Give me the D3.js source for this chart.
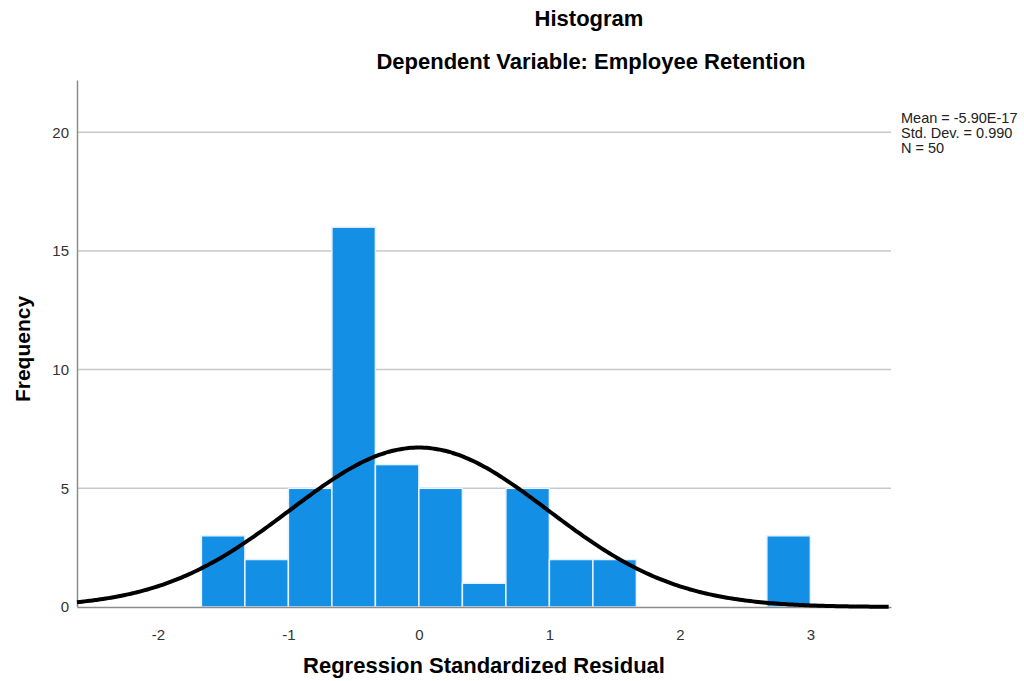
<!DOCTYPE html>
<html>
<head>
<meta charset="utf-8">
<script src="https://cdn.jsdelivr.net/npm/d3@7"></script>
<style>
  body { margin: 0; background: #fff; }
  text { font-family: "Liberation Sans", Arial, sans-serif; }
</style>
</head>
<body>
<div id="chart"></div>
<script>
// Histogram data (bins of width 1/3)
const binStarts = [-5/3, -4/3, -1, -2/3, -1/3, 0, 1/3, 2/3, 1, 4/3, 8/3];
const counts    = [3, 2, 5, 16, 6, 5, 1, 5, 2, 2, 3];
const binWidth = 1 / 3;
const yTicks = [0, 5, 10, 15, 20];
const xTicks = [-2, -1, 0, 1, 2, 3];
const statLines = ["Mean = -5.90E-17", "Std. Dev. = 0.990", "N = 50"];
const mean = -5.90e-17, sd = 0.990, n = 50;

const W = 1024, H = 681;
const margin = { top: 80, right: 133, bottom: 74, left: 77 },
    width = W - margin.left - margin.right,
    height = H - margin.top - margin.bottom;

const svg = d3.select("#chart")
    .append("svg")
    .attr("width", W)
    .attr("height", H);

const g = svg.append("g")
    .attr("transform", `translate(${margin.left},${margin.top})`);

const x = d3.scaleLinear()
    .domain([-2.62, 3.618])
    .range([0, width]);

const y = d3.scaleLinear()
    .domain([0, 22.2])
    .range([height, 0]);

// gridlines
g.selectAll(".grid")
    .data(yTicks.filter(d => d > 0))
    .join("line")
    .attr("x1", 0)
    .attr("x2", width)
    .attr("y1", d => y(d))
    .attr("y2", d => y(d))
    .attr("stroke", "#c8c8c8")
    .attr("stroke-width", 1.5);

// bars
const bins = binStarts.map((s, i) => ({ x0: s, x1: s + binWidth, count: counts[i] }));
g.selectAll(".bar")
    .data(bins)
    .join("rect")
    .attr("class", "bar")
    .attr("x", d => x(d.x0))
    .attr("y", d => y(d.count))
    .attr("width", d => x(d.x1) - x(d.x0))
    .attr("height", d => y(0) - y(d.count))
    .attr("fill", "#138fe6")
    .attr("stroke", "#e6f2fc")
    .attr("stroke-width", 1.5);

// axes
const yAxis = g.append("g")
    .call(d3.axisLeft(y).tickValues(yTicks).tickSize(0).tickPadding(8));
yAxis.select(".domain").attr("stroke", "#8c8c8c").attr("stroke-width", 1.5);
yAxis.selectAll("text").attr("font-size", 15).attr("fill", "#333");

const xAxis = g.append("g")
    .attr("transform", `translate(0,${height})`)
    .call(d3.axisBottom(x).tickValues(xTicks).tickSize(0).tickPadding(22)
        .tickFormat(d => String(d)));
xAxis.select(".domain").attr("stroke", "#8c8c8c").attr("stroke-width", 1.5);
xAxis.selectAll("text").attr("font-size", 15).attr("fill", "#333");

// normal curve fitted from the reported stats
const curvePts = d3.range(-2.62, 3.62, 0.02).map(v => [
    v, n * binWidth / (sd * Math.sqrt(2 * Math.PI)) * Math.exp(-0.5 * ((v - mean) / sd) ** 2)
]);
g.append("path")
    .datum(curvePts)
    .attr("fill", "none")
    .attr("stroke", "#000")
    .attr("stroke-width", 4)
    .attr("d", d3.line().x(d => x(d[0])).y(d => y(d[1])).curve(d3.curveBasis));

// titles
svg.append("text")
    .attr("x", 589).attr("y", 26)
    .attr("text-anchor", "middle")
    .attr("font-size", 22).attr("font-weight", "bold")
    .text("Histogram");
svg.append("text")
    .attr("x", 591).attr("y", 69)
    .attr("text-anchor", "middle")
    .attr("font-size", 22).attr("font-weight", "bold")
    .text("Dependent Variable: Employee Retention");

svg.append("text")
    .attr("x", 484).attr("y", 673)
    .attr("text-anchor", "middle")
    .attr("font-size", 22).attr("font-weight", "bold")
    .text("Regression Standardized Residual");

svg.append("text")
    .attr("transform", `translate(30,349) rotate(-90)`)
    .attr("text-anchor", "middle")
    .attr("font-size", 21).attr("font-weight", "bold")
    .text("Frequency");

// stats box
svg.selectAll(".stat")
    .data(statLines)
    .join("text")
    .attr("x", 901)
    .attr("y", (d, i) => 123 + i * 15)
    .attr("font-size", 14.5)
    .attr("fill", "#222")
    .text(d => d);
</script>
</body>
</html>
